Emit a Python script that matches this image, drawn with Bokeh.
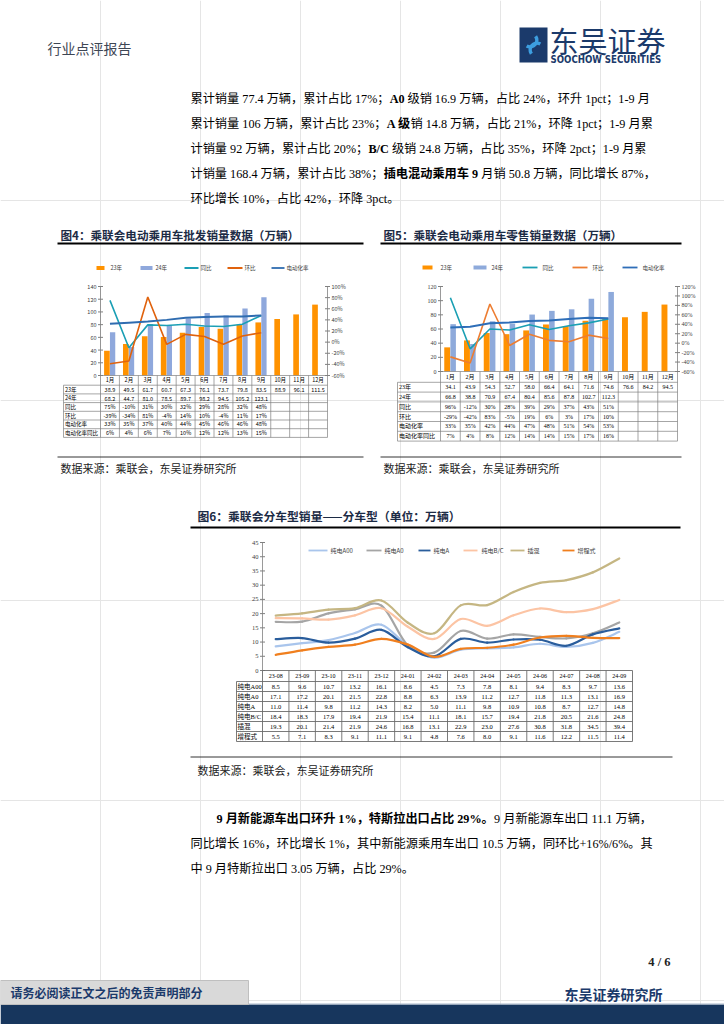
from bokeh.plotting import figure
from bokeh.models import Range1d
from bokeh.core.properties import value
from bokeh.embed import file_html
from bokeh.resources import INLINE

# ------------------------------------------------------------------ data
months = ["1月", "2月", "3月", "4月", "5月", "6月", "7月", "8月", "9月", "10月", "11月", "12月"]
row_names = ["23年", "24年", "同比", "环比", "电动化率", "电动化率同比"]

# 图4 批发
wh_23 = [38.9, 49.5, 61.7, 60.7, 67.3, 76.1, 73.7, 79.8, 83.5, 88.9, 96.1, 111.5]
wh_24 = [68.2, 44.7, 81.0, 78.5, 89.7, 98.2, 94.5, 105.2, 123.1]
wh_yoy = [75, -10, 31, 30, 32, 29, 28, 32, 48]
wh_mom = [-39, -34, 81, -4, 14, 10, -4, 11, 17]
wh_pen = [33, 35, 37, 40, 44, 45, 46, 46, 48]
wh_pen_yoy = [6, 4, 6, 7, 10, 12, 12, 13, 15]
wh_left_ticks = [0, 20, 40, 60, 80, 100, 120, 140]
wh_right_ticks = [-60, -40, -20, 0, 20, 40, 60, 80, 100]

# 图5 零售
rt_23 = [34.1, 43.9, 54.3, 52.7, 58.0, 66.4, 64.1, 71.6, 74.6, 76.6, 84.2, 94.5]
rt_24 = [66.8, 38.8, 70.9, 67.4, 80.4, 85.6, 87.8, 102.7, 112.3]
rt_yoy = [96, -12, 30, 28, 39, 29, 37, 43, 51]
rt_mom = [-29, -42, 83, -5, 19, 6, 3, 17, 10]
rt_pen = [33, 35, 42, 44, 47, 48, 51, 54, 53]
rt_pen_yoy = [7, 4, 8, 12, 14, 14, 15, 17, 16]
rt_left_ticks = [0, 20, 40, 60, 80, 100, 120]
rt_right_ticks = [-60, -40, -20, 0, 20, 40, 60, 80, 100, 120]

# 图6 分车型
seg_months = ["23-08", "23-09", "23-10", "23-11", "23-12", "24-01", "24-02",
              "24-03", "24-04", "24-05", "24-06", "24-07", "24-08", "24-09"]
seg_names = ["纯电A00", "纯电A0", "纯电A", "纯电B/C", "插混", "增程式"]
bev_a00 = [8.5, 9.6, 10.7, 13.2, 16.1, 8.6, 4.5, 7.3, 7.8, 8.1, 9.4, 8.3, 9.7, 13.6]
bev_a0 = [17.1, 17.2, 20.1, 21.5, 22.8, 8.8, 6.3, 13.9, 11.2, 12.7, 11.8, 11.3, 13.1, 16.9]
bev_a = [11.0, 11.4, 9.8, 11.2, 14.3, 8.2, 5.0, 11.1, 9.8, 10.9, 10.8, 8.7, 12.7, 14.8]
bev_bc = [18.4, 18.3, 17.9, 19.4, 21.9, 15.4, 11.1, 18.1, 15.7, 19.4, 21.8, 20.5, 21.6, 24.8]
phev = [19.3, 20.1, 21.4, 21.9, 24.6, 16.8, 13.1, 22.9, 23.0, 27.6, 30.8, 31.8, 34.5, 39.4]
erev = [5.5, 7.1, 8.3, 9.1, 11.1, 9.1, 4.8, 7.6, 8.0, 9.1, 11.6, 12.2, 11.5, 11.4]
seg_ticks = [0, 5, 10, 15, 20, 25, 30, 35, 40, 45]

# ------------------------------------------------------------------ page
CJK = value("Noto Sans CJK SC")
SER = value("Liberation Serif, Noto Sans CJK SC")
NAVY = "#1b3a6b"

W, H = 724, 1024
p = figure(width=W, height=H, x_range=Range1d(0, W), y_range=Range1d(H, 0),
           output_backend="svg", toolbar_location=None,
           x_axis_location=None, y_axis_location=None, min_border=0,
           outline_line_color=None)
p.background_fill_color = "white"
p.border_fill_color = "white"


def txt(x, y, s, size, color="black", font=CJK, bold=False, align="left"):
    p.text(x=[x], y=[y], text=[s], text_font=font, text_font_size=f"{size}px",
           text_font_style="bold" if bold else "normal", text_color=color,
           text_align=align, text_baseline="middle")


def seg(x0, y0, x1, y1, color="black", w=1.0):
    p.segment(x0=[x0], y0=[y0], x1=[x1], y1=[y1], line_color=color, line_width=w)


def est_w(s, size, bold=False):
    w = 0.0
    for ch in s:
        if ord(ch) >= 0x2E80:
            w += 1.0
        elif ch == " ":
            w += 0.25
        elif ch.isdigit():
            w += 0.5
        elif ch == ".":
            w += 0.25
        elif ch == "%":
            w += 1.0 if bold else 0.833
        elif ch == "-":
            w += 0.333
        elif ch == "/":
            w += 0.278
        elif ch == "+":
            w += 0.564
        elif ch.isupper():
            w += 0.7
        else:
            w += 0.45
    return w * size


def para_line(x, y, segments, size=12.2):
    for s, b in segments:
        stripped = s.lstrip(" ")
        x += est_w(s[:len(s) - len(stripped)], size, b)
        txt(x, y, stripped, size, font=SER, bold=b)
        x += est_w(stripped, size, b)


# header
txt(47, 47, "行业点评报告", 14, color="#3d4654")
p.quad(left=[519], right=[547], top=[27], bottom=[62], fill_color=NAVY, line_color=None)
p.arc(x=[529.5, 536.5], y=[39.5, 49.5], radius=6.8, start_angle=[0.6, 3.74], end_angle=[4.2, 7.34],
      direction="clock", line_color="#3d9ee0", line_width=3.5)
txt(549, 39, "东吴证券", 29, color=NAVY)
txt(550, 58.5, "SOOCHOW SECURITIES", 9.6, color=NAVY, font=value("DejaVu Sans Condensed"), bold=True)

# paragraph 1
P1 = [
    [("累计销量 77.4 万辆，累计占比 17%；", False), ("A0", True), (" 级销 16.9 万辆，占比 24%，环升 1pct；1-9 月", False)],
    [("累计销量 106 万辆，累计占比 23%；", False), ("A 级", True), ("销 14.8 万辆，占比 21%，环降 1pct；1-9 月累", False)],
    [("计销量 92 万辆，累计占比 20%；", False), ("B/C", True), (" 级销 24.8 万辆，占比 35%，环降 2pct；1-9 月累", False)],
    [("计销量 168.4 万辆，累计占比 38%；", False), ("插电混动乘用车 9", True), (" 月销 50.8 万辆，同比增长 87%，", False)],
    [("环比增长 10%，占比 42%，环降 3pct。", False)],
]
for i, line in enumerate(P1):
    para_line(190, 98 + 25.2 * i, line)

# figure titles
TCOL = "#1c2b45"
txt(60, 234, "图4：乘联会电动乘用车批发销量数据（万辆）", 11.6, color=TCOL, bold=True)
txt(383, 234, "图5：乘联会电动乘用车零售销量数据（万辆）", 11.6, color=TCOL, bold=True)
seg(57, 243, 363, 243, w=2)
seg(380, 243, 681, 243, w=2)
seg(57, 456.5, 363, 456.5, w=0.8)
seg(380, 456.5, 681, 456.5, w=0.8)
txt(60, 467, "数据来源：乘联会，东吴证券研究所", 11, color="#222222")
txt(383, 467, "数据来源：乘联会，东吴证券研究所", 11, color="#222222")


def legend(items, y, size=5.5):
    for kind, x0, x1, tx, color, label in items:
        if kind == "bar":
            p.quad(left=[x0], right=[x1], top=[y - 2], bottom=[y + 2], fill_color=color, line_color=None)
        else:
            seg(x0, y, x1, y, color=color, w=1.8)
        txt(tx, y, label, size, color="#404040")


def combo_chart(xl, xr, y0, ytop, lmax, rmin, rmax, lticks, rticks, v23, v24, yoy, mom, pen, pen_yoy,
                tleft, row_h, cols, fs, tfont):
    idx12 = list(range(1, 13))
    idx9 = list(range(1, 10))
    L = p.subplot(x_source=Range1d(0.5, 12.5), y_source=Range1d(0, lmax),
                  x_target=Range1d(xl, xr), y_target=Range1d(y0, ytop))
    R = p.subplot(x_source=Range1d(0.5, 12.5), y_source=Range1d(rmin, rmax),
                  x_target=Range1d(xl, xr), y_target=Range1d(y0, ytop))
    T = p.subplot(x_source=Range1d(0.5, 12.5), y_source=Range1d(0, 1),
                  x_target=Range1d(xl, xr), y_target=Range1d(0, 1))
    L.vbar(x=[i - 0.16 for i in idx12], top=v23, width=0.3, fill_color=cols["c23"], line_color=None)
    L.vbar(x=[i + 0.14 for i in idx9], top=v24, width=0.28, fill_color=cols["c24"], line_color=None)
    R.line(x=idx9, y=yoy, line_color=cols["yoy"], line_width=1.6)
    R.line(x=idx9, y=mom, line_color=cols["mom"], line_width=1.6)
    R.line(x=idx9, y=pen, line_color=cols["pen"], line_width=2.0)
    # axes
    L.segment(x0=[0.5], y0=[0], x1=[0.5], y1=[lmax], line_color="#808080", line_width=0.8)
    R.segment(x0=[12.5], y0=[rmin], x1=[12.5], y1=[rmax], line_color="#808080", line_width=0.8)
    L.scatter(x=0.5, y=lticks, marker="dash", size=5, line_color="#808080")
    R.scatter(x=12.5, y=rticks, marker="dash", size=5, line_color="#808080")
    L.text(x=0.5, y=lticks, text=[str(t) for t in lticks], x_offset=-4, text_align="right",
           text_baseline="middle", text_font_size=f"{fs}px", text_font=tfont, text_color="#404040")
    R.text(x=12.5, y=rticks, text=[f"{t}%" for t in rticks], x_offset=4, text_align="left",
           text_baseline="middle", text_font_size=f"{fs}px", text_font=tfont, text_color="#404040")
    # table
    hb = y0 + row_h + 1
    bounds = [hb + row_h * k for k in range(7)]
    bottom = bounds[-1]
    T.segment(x0=[b + 0.5 for b in range(13)], y0=y0, x1=[b + 0.5 for b in range(13)], y1=bottom,
              line_color="#808080", line_width=0.7)
    p.segment(x0=[xl] + [tleft] * 6, y0=[y0] + bounds[:-1], x1=[xr] * 7, y1=[y0] + bounds[:-1],
              line_color="#808080", line_width=0.7)
    p.segment(x0=[tleft, tleft], y0=[hb, bottom], x1=[tleft, xr], y1=[bottom, bottom],
              line_color="#808080", line_width=0.7)
    T.text(x=idx12, y=y0 + (row_h + 1) / 2, text=months, text_align="center", text_baseline="middle",
           text_font_size=f"{fs}px", text_font=tfont, text_color="black")
    centers = [b + row_h / 2 for b in bounds[:-1]]
    p.text(x=tleft + 1.5, y=centers, text=row_names, text_align="left", text_baseline="middle",
           text_font_size=f"{fs}px", text_font=tfont, text_color="black")
    rows = [[f"{v:.1f}" for v in v23], [f"{v:.1f}" for v in v24], [f"{v}%" for v in yoy],
            [f"{v}%" for v in mom], [f"{v}%" for v in pen], [f"{v}%" for v in pen_yoy]]
    for r, vals in enumerate(rows):
        T.text(x=list(range(1, len(vals) + 1)), y=centers[r], text=vals, text_align="center",
               text_baseline="middle", text_font_size=f"{fs}px", text_font=tfont, text_color="black")


cols4 = dict(c23="#ff9200", c24="#8fa8dc", yoy="#1b9fb5", mom="#e0620d", pen="#2f6cb0")
legend([("bar", 96, 104, 110, cols4["c23"], "23年"), ("bar", 140, 152, 155, cols4["c24"], "24年"),
        ("line", 184, 198, 200, cols4["yoy"], "同比"), ("line", 227, 242, 244, cols4["mom"], "环比"),
        ("line", 271, 284, 286, cols4["pen"], "电动化率")], 267.5)
combo_chart(100, 327, 375, 286, 140, -60, 100, wh_left_ticks, wh_right_ticks,
            wh_23, wh_24, wh_yoy, wh_mom, wh_pen, wh_pen_yoy, 63, 8.7, cols4, 5.5, CJK)

cols5 = dict(c23="#ff9200", c24="#8eaadb", yoy="#1a9fb3", mom="#ed7d31", pen="#2e6eb8")
legend([("bar", 422, 432, 440, cols5["c23"], "23年"), ("bar", 473, 486, 491, cols5["c24"], "24年"),
        ("line", 522, 537, 542, cols5["yoy"], "同比"), ("line", 572, 587, 592, cols5["mom"], "环比"),
        ("line", 622, 637, 642, cols5["pen"], "电动化率")], 267)
combo_chart(440, 677, 371, 286, 120, -60, 120, rt_left_ticks, rt_right_ticks,
            rt_23, rt_24, rt_yoy, rt_mom, rt_pen, rt_pen_yoy, 397, 9.8, cols5, 6, SER)

# ------------------------------------------------------------------ figure 6
txt(197, 515, "图6：乘联会分车型销量——分车型（单位：万辆）", 11.8, color=TCOL, bold=True)
seg(190, 527, 680, 527, w=2)
seg(190, 756.5, 672, 756.5, w=0.8)
txt(197, 769, "数据来源：乘联会，东吴证券研究所", 11, color="#222222")

seg_cols = ["#a9c5ec", "#a5a5a5", "#2a5d9c", "#fcc4a4", "#c5b683", "#f07f1e"]
seg_series = [bev_a00, bev_a0, bev_a, bev_bc, phev, erev]
legend([("line", 308, 327, 330, seg_cols[0], seg_names[0]), ("line", 366, 381, 384, seg_cols[1], seg_names[1]),
        ("line", 418, 430, 433, seg_cols[2], seg_names[2]), ("line", 463, 477, 481, seg_cols[3], seg_names[3]),
        ("line", 510, 524, 527, seg_cols[4], seg_names[4]), ("line", 562, 574, 577, seg_cols[5], seg_names[5])],
       550, size=6)

S = p.subplot(x_source=Range1d(0.5, 14.5), y_source=Range1d(0, 45),
              x_target=Range1d(262, 632), y_target=Range1d(670, 542))
S6 = p.subplot(x_source=Range1d(0.5, 14.5), y_source=Range1d(0, 1),
               x_target=Range1d(262, 632), y_target=Range1d(0, 1))
idx14 = list(range(1, 15))
for vals, c in zip(seg_series, seg_cols):
    # smoothed line (curve through every data point, like the source's smoothed series)
    n = len(vals)
    x0s, y0s, x1s, y1s, cx0, cy0, cx1, cy1 = [], [], [], [], [], [], [], []
    for i in range(n - 1):
        ip, inx = max(i - 1, 0), min(i + 2, n - 1)
        x0s.append(idx14[i]); y0s.append(vals[i])
        x1s.append(idx14[i + 1]); y1s.append(vals[i + 1])
        cx0.append(idx14[i] + (idx14[i + 1] - idx14[ip]) / 6)
        cy0.append(vals[i] + (vals[i + 1] - vals[ip]) / 6)
        cx1.append(idx14[i + 1] - (idx14[inx] - idx14[i]) / 6)
        cy1.append(vals[i + 1] - (vals[inx] - vals[i]) / 6)
    S.bezier(x0=x0s, y0=y0s, x1=x1s, y1=y1s, cx0=cx0, cy0=cy0, cx1=cx1, cy1=cy1,
             line_color=c, line_width=2.2, line_cap="round")
S.segment(x0=[0.5], y0=[0], x1=[0.5], y1=[45], line_color="#808080", line_width=0.8)
S.scatter(x=0.5, y=seg_ticks, marker="dash", size=5, line_color="#808080")
S.text(x=0.5, y=seg_ticks, text=[str(t) for t in seg_ticks], x_offset=-4, text_align="right",
       text_baseline="middle", text_font_size="6.5px", text_font=SER, text_color="#404040")
# table 6
t6_left, t6_top, t6_rh = 236, 670, 10
t6_hb = 681
t6_bounds = [t6_hb + t6_rh * k for k in range(7)]
S6.segment(x0=[b + 0.5 for b in range(15)], y0=t6_top, x1=[b + 0.5 for b in range(15)], y1=t6_bounds[-1],
           line_color="#6b6b6b", line_width=0.9)
p.segment(x0=[262] + [t6_left] * 7, y0=[t6_top] + t6_bounds, x1=[632] * 8, y1=[t6_top] + t6_bounds,
          line_color="#6b6b6b", line_width=0.9)
seg(t6_left, t6_hb, t6_left, t6_bounds[-1], color="#6b6b6b", w=0.9)
S6.text(x=idx14, y=(t6_top + t6_hb) / 2, text=seg_months, text_align="center", text_baseline="middle",
        text_font_size="6px", text_font=SER, text_color="black")
c6 = [b + t6_rh / 2 for b in t6_bounds[:-1]]
p.text(x=t6_left + 1, y=c6, text=seg_names, text_align="left", text_baseline="middle",
       text_font_size="6.5px", text_font=SER, text_color="black")
for r, vals in enumerate(seg_series):
    S6.text(x=idx14, y=c6[r], text=[f"{v:.1f}" for v in vals], text_align="center", text_baseline="middle",
            text_font_size="6.5px", text_font=SER, text_color="black")

# ------------------------------------------------------------------ paragraph 2
para_line(216, 818, [("9 月新能源车出口环升 1%，特斯拉出口占比 29%。", True), ("9 月新能源车出口 11.1 万辆，", False)])
para_line(190, 843, [("同比增长 16%，环比增长 1%，其中新能源乘用车出口 10.5 万辆，同环比+16%/6%。其", False)])
para_line(190, 868, [("中 9 月特斯拉出口 3.05 万辆，占比 29%。", False)])

# ------------------------------------------------------------------ footer
txt(670, 961, "4 / 6", 12.5, color="#222222", font=value("Liberation Serif"), bold=True, align="right")
txt(662, 993, "东吴证券研究所", 14, color=NAVY, bold=True, align="right")
p.quad(left=[0], right=[W], top=[1004], bottom=[H], fill_color="#17365d", line_color=None)
seg(248, 1003.5, W, 1003.5, color="#a6b4c8", w=1)
p.quad(left=[0], right=[248], top=[980], bottom=[1004], fill_color="#d9d9d9", line_color="#bfbfbf")
txt(10, 992, "请务必阅读正文之后的免责声明部分", 12, color=NAVY, bold=True)

open("out.html", "w").write(file_html(p, INLINE))
